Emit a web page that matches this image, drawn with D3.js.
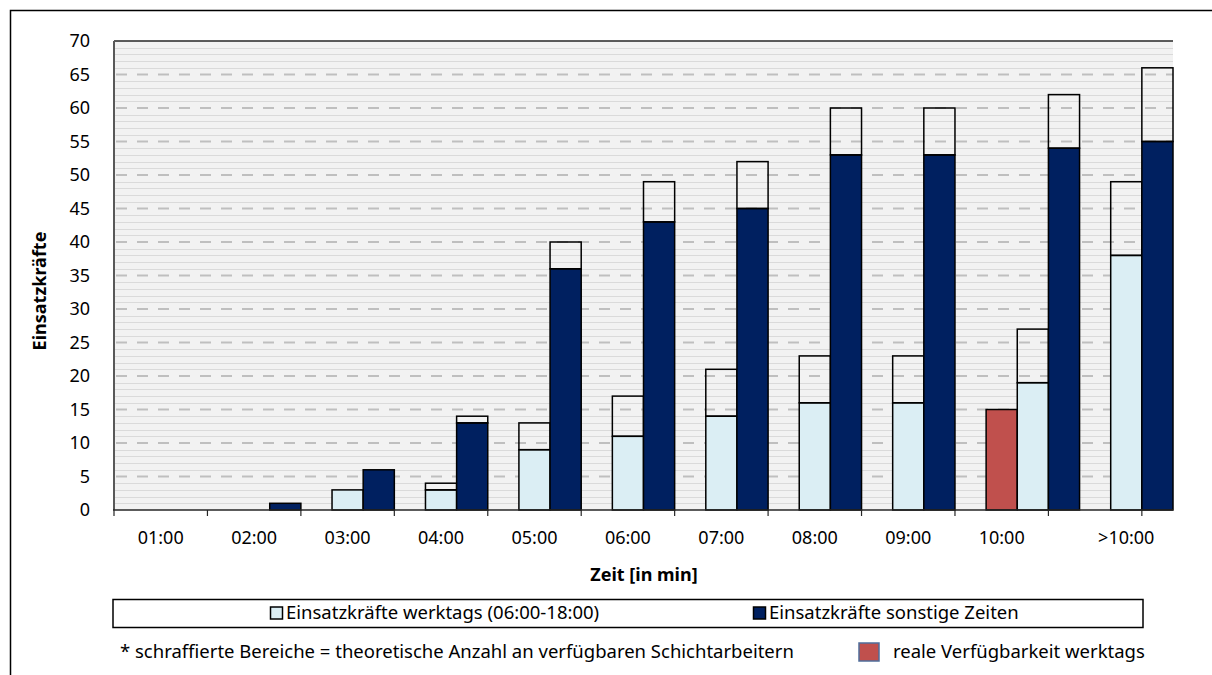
<!DOCTYPE html>
<meta charset="utf-8">
<head>
	<script src="https://d3js.org/d3.v7.min.js"></script>
</head>
<style>
	body {
		margin: 0;
		background: #fff;
	}
	text {
		font-family: "Noto Sans", "Open Sans", sans-serif;
		fill: #000;
	}
	.tick-label {
		font-size: 18px;
	}
	.title {
		font-size: 18px;
		font-weight: 700;
	}
	.legend-text {
		font-size: 18.5px;
	}
</style>
<body>
<svg id="chart" width="1212" height="675"></svg>
<script>
	// categories and values
	var categories = ["01:00", "02:00", "03:00", "04:00", "05:00", "06:00", "07:00", "08:00", "09:00", "10:00", ">10:00"];
	var werktagsReal = [0, 0, 3, 3, 9, 11, 14, 16, 16, 19, 38];
	var werktagsTheo = [0, 0, 3, 4, 13, 17, 21, 23, 23, 27, 49];
	var sonstigeReal = [0, 1, 6, 13, 36, 43, 45, 53, 53, 54, 55];
	var sonstigeTheo = [0, 1, 6, 14, 40, 49, 52, 60, 60, 62, 66];
	var realeVerfuegbarkeit = [0, 0, 0, 0, 0, 0, 0, 0, 0, 15, 0];
	var yTicks = [0, 5, 10, 15, 20, 25, 30, 35, 40, 45, 50, 55, 60, 65, 70];

	var colLight = "#dbeef4",
	    colNavy = "#002060",
	    colRed = "#c0504d";

	var svg = d3.select("#chart");

	var plot = {left: 114, right: 1173, top: 41, bottom: 510};

	// 34 bar slots: 3 per category (red, light, navy); from 10:00 on the bars sit one slot further right
	var x = d3.scaleLinear()
	    .domain([0, 34])
	    .range([plot.left, plot.right]);
	var y = d3.scaleLinear()
	    .domain([0, 70])
	    .range([plot.bottom, plot.top]);

	function slot(k, s) { return 3 * k + s + (k >= 9 ? 1 : 0); }
	function labelPos(k) { return 3 * k + 1.5 + (k >= 10 ? 1 : 0); }

	// outer frame (only top and left edge inside the picture)
	svg.append("path")
	    .attr("d", "M10.5,675 V10.5 H1212")
	    .attr("fill", "none")
	    .attr("stroke", "#000")
	    .attr("stroke-width", 1.5);

	// plot background with the hatching
	svg.append("rect")
	    .attr("x", plot.left)
	    .attr("y", plot.top)
	    .attr("width", plot.right - plot.left)
	    .attr("height", plot.bottom - plot.top)
	    .attr("fill", "#f2f2f2");

	svg.append("g").selectAll("line")
	  .data(d3.range(1, 70).filter(function(v) { return v % 5 != 0; }))
	  .join("line")
	    .attr("x1", plot.left)
	    .attr("x2", plot.right)
	    .attr("y1", function(d) { return Math.round(y(d)) + 0.5; })
	    .attr("y2", function(d) { return Math.round(y(d)) + 0.5; })
	    .attr("stroke", "#dadada")
	    .attr("stroke-width", 1);

	// dashed major gridlines
	svg.append("g").selectAll("line")
	  .data(yTicks.filter(function(v) { return v > 0 && v < 70; }))
	  .join("line")
	    .attr("x1", plot.left + 2)
	    .attr("x2", plot.right)
	    .attr("y1", function(d) { return y(d); })
	    .attr("y2", function(d) { return y(d); })
	    .attr("stroke", "#bfbfbf")
	    .attr("stroke-width", 2)
	    .attr("stroke-dasharray", "11,10");

	svg.append("line")
	    .attr("x1", plot.left)
	    .attr("x2", plot.right)
	    .attr("y1", y(70))
	    .attr("y2", y(70))
	    .attr("stroke", "#262626")
	    .attr("stroke-width", 1.5);

	var bw = x(1) - x(0);
	var bars = svg.append("g")
	    .attr("stroke", "#000")
	    .attr("stroke-width", 1.5);

	// Append each series: solid part, then hatched (transparent) part on top
	function addSeries(real, theo, s, fill) {
		var idx = d3.range(categories.length);
		bars.append("g").selectAll("rect")
		  .data(idx.filter(function(k) { return real[k] > 0; }))
		  .join("rect")
		    .attr("x", function(k) { return x(slot(k, s)); })
		    .attr("width", bw)
		    .attr("y", function(k) { return y(real[k]); })
		    .attr("height", function(k) { return y(0) - y(real[k]); })
		    .attr("fill", fill);
		if (!theo) return;
		bars.append("g").selectAll("rect")
		  .data(idx.filter(function(k) { return theo[k] > real[k]; }))
		  .join("rect")
		    .attr("x", function(k) { return x(slot(k, s)); })
		    .attr("width", bw)
		    .attr("y", function(k) { return y(theo[k]); })
		    .attr("height", function(k) { return y(real[k]) - y(theo[k]); })
		    .attr("fill", "none");
	}
	addSeries(realeVerfuegbarkeit, null, 0, colRed);
	addSeries(werktagsReal, werktagsTheo, 1, colLight);
	addSeries(sonstigeReal, sonstigeTheo, 2, colNavy);

	// Y axis
	svg.append("line")
	    .attr("x1", plot.left)
	    .attr("x2", plot.left)
	    .attr("y1", plot.top)
	    .attr("y2", plot.bottom)
	    .attr("stroke", "#595959")
	    .attr("stroke-width", 2);

	svg.append("g").selectAll("text")
	  .data(yTicks)
	  .join("text")
	    .attr("class", "tick-label")
	    .attr("x", 90)
	    .attr("y", function(d) { return y(d); })
	    .attr("dy", "0.35em")
	    .attr("text-anchor", "end")
	    .text(function(d) { return d; });

	// X axis
	svg.append("line")
	    .attr("x1", plot.left - 1)
	    .attr("x2", plot.right)
	    .attr("y1", plot.bottom)
	    .attr("y2", plot.bottom)
	    .attr("stroke", "#262626")
	    .attr("stroke-width", 1.5);

	svg.append("g").selectAll("line")
	  .data(d3.range(0, 34, 3))
	  .join("line")
	    .attr("x1", function(d) { return x(d); })
	    .attr("x2", function(d) { return x(d); })
	    .attr("y1", plot.bottom)
	    .attr("y2", plot.bottom + 6)
	    .attr("stroke", "#262626")
	    .attr("stroke-width", 1.2);

	svg.append("g").selectAll("text")
	  .data(categories)
	  .join("text")
	    .attr("class", "tick-label")
	    .attr("x", function(d, i) { return x(labelPos(i)); })
	    .attr("y", 538)
	    .attr("dy", "0.35em")
	    .attr("text-anchor", "middle")
	    .text(function(d) { return d; });

	// axis titles
	svg.append("text")
	    .attr("class", "title")
	    .attr("x", 644)
	    .attr("y", 575)
	    .attr("dy", "0.35em")
	    .attr("text-anchor", "middle")
	    .text("Zeit [in min]");

	svg.append("text")
	    .attr("class", "title")
	    .attr("transform", "translate(40,291) rotate(-90)")
	    .attr("dy", "0.35em")
	    .attr("text-anchor", "middle")
	    .text("Einsatzkräfte");

	// *******************************
	// ***** Legend *****
	svg.append("rect")
	    .attr("x", 113)
	    .attr("y", 599.5)
	    .attr("width", 1030)
	    .attr("height", 28)
	    .attr("fill", "#fff")
	    .attr("stroke", "#000")
	    .attr("stroke-width", 1.5);

	var legendItems = [
		{label: "Einsatzkräfte werktags (06:00-18:00)", color: colLight, x: 270},
		{label: "Einsatzkräfte sonstige Zeiten", color: colNavy, x: 753}
	];
	var li = svg.append("g").selectAll("g")
	  .data(legendItems)
	  .join("g")
	    .attr("transform", function(d) { return "translate(" + d.x + ",613)"; });
	li.append("rect")
	    .attr("x", 0.5)
	    .attr("y", -6)
	    .attr("width", 12)
	    .attr("height", 12)
	    .attr("fill", function(d) { return d.color; })
	    .attr("stroke", "#000")
	    .attr("stroke-width", 1.5);
	li.append("text")
	    .attr("class", "legend-text")
	    .attr("x", 16)
	    .attr("dy", "0.35em")
	    .text(function(d) { return d.label; });

	// footnote
	svg.append("text")
	    .attr("class", "legend-text")
	    .attr("x", 120)
	    .attr("y", 652)
	    .attr("dy", "0.35em")
	    .text("* schraffierte Bereiche = theoretische Anzahl an verfügbaren Schichtarbeitern");

	svg.append("rect")
	    .attr("x", 859)
	    .attr("y", 643)
	    .attr("width", 20)
	    .attr("height", 18)
	    .attr("fill", colRed)
	    .attr("stroke", "#4f6d9a")
	    .attr("stroke-width", 1.5);
	svg.append("text")
	    .attr("class", "legend-text")
	    .attr("x", 893)
	    .attr("y", 652)
	    .attr("dy", "0.35em")
	    .text("reale Verfügbarkeit werktags");
</script>
</body>
